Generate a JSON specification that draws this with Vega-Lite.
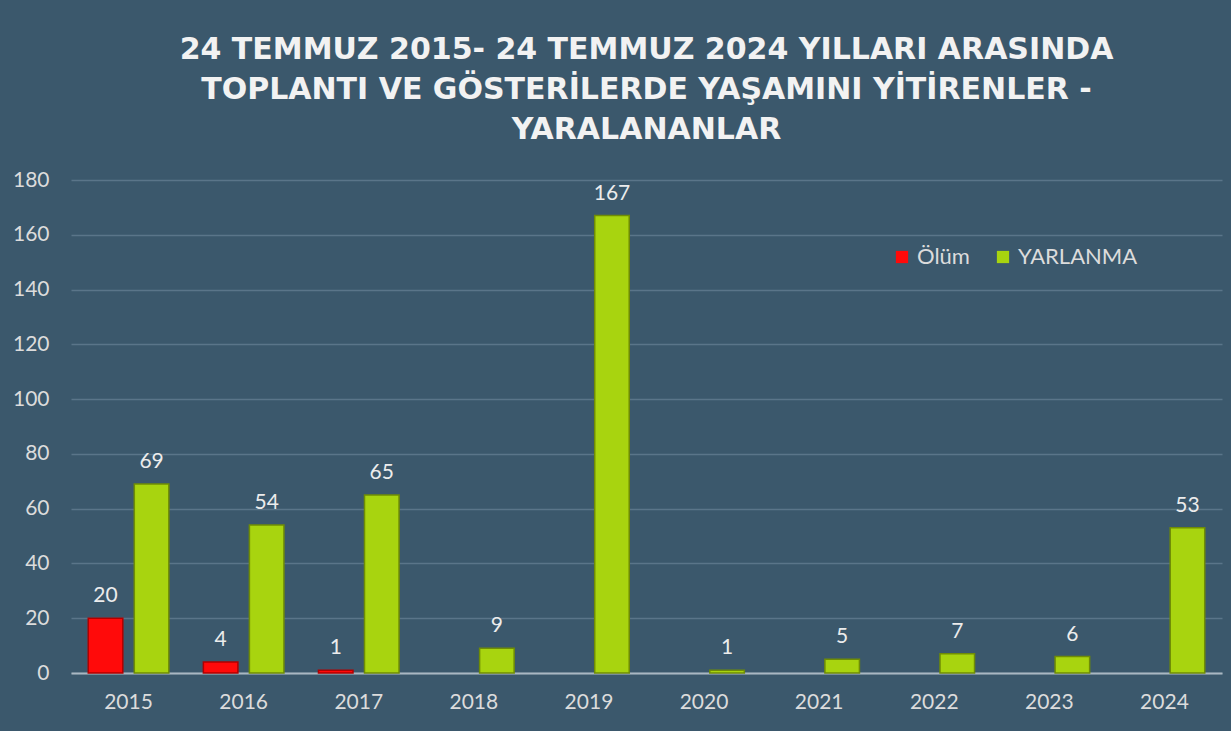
{
  "$schema": "https://vega.github.io/schema/vega-lite/v6.json",
  "autosize": "none",
  "width": 1151,
  "height": 493,
  "padding": {"left": 71, "top": 180, "right": 9, "bottom": 58},
  "background": "#3b586c",
  "config": {"view": {"stroke": null}},
  "title": {
    "text": ["24 TEMMUZ 2015- 24 TEMMUZ 2024 YILLARI ARASINDA", "TOPLANTI  VE GÖSTERİLERDE YAŞAMINI YİTİRENLER -", "YARALANANLAR"],
    "font": "DejaVu Sans",
    "fontSize": 30,
    "fontWeight": "bold",
    "color": "#f2f2f2",
    "lineHeight": 40,
    "anchor": "middle",
    "offset": 24
  },
  "data": {
    "values": [
      {"year": "2015", "series": "Ölüm", "value": 20},
      {"year": "2016", "series": "Ölüm", "value": 4},
      {"year": "2017", "series": "Ölüm", "value": 1},
      {"year": "2015", "series": "YARLANMA", "value": 69},
      {"year": "2016", "series": "YARLANMA", "value": 54},
      {"year": "2017", "series": "YARLANMA", "value": 65},
      {"year": "2018", "series": "YARLANMA", "value": 9},
      {"year": "2019", "series": "YARLANMA", "value": 167},
      {"year": "2020", "series": "YARLANMA", "value": 1},
      {"year": "2021", "series": "YARLANMA", "value": 5},
      {"year": "2022", "series": "YARLANMA", "value": 7},
      {"year": "2023", "series": "YARLANMA", "value": 6},
      {"year": "2024", "series": "YARLANMA", "value": 53}
    ]
  },
  "encoding": {
    "x": {
      "field": "year",
      "type": "nominal",
      "sort": ["2015","2016","2017","2018","2019","2020","2021","2022","2023","2024"],
      "scale": {"paddingInner": 0.3, "paddingOuter": 0.15},
      "axis": {
        "title": null,
        "labelAngle": 0,
        "labelFont": "Lato",
        "labelFontSize": 21,
        "labelColor": "#dcdcdc",
        "labelPadding": 18,
        "ticks": false,
        "domainColor": "#a9b7c2",
        "domainWidth": 2
      }
    },
    "xOffset": {
      "field": "series",
      "type": "nominal",
      "sort": ["Ölüm", "YARLANMA"],
      "scale": {"paddingInner": 0.25}
    },
    "y": {
      "field": "value",
      "type": "quantitative",
      "scale": {"domain": [0, 180]},
      "axis": {
        "title": null,
        "values": [0,20,40,60,80,100,120,140,160,180],
        "labelFont": "Lato",
        "labelFontSize": 21,
        "labelColor": "#dcdcdc",
        "labelPadding": 22,
        "ticks": false,
        "domain": false,
        "gridColor": "#5a7589",
        "gridWidth": 1.5
      }
    }
  },
  "layer": [
    {
      "mark": {"type": "bar", "strokeWidth": 1.5},
      "encoding": {
        "color": {
          "field": "series",
          "type": "nominal",
          "sort": ["Ölüm", "YARLANMA"],
          "scale": {"domain": ["Ölüm", "YARLANMA"], "range": ["#ff0a0a", "#a8d40f"]},
          "legend": {
            "title": null,
            "orient": "none",
            "legendX": 820,
            "legendY": 66,
            "direction": "horizontal",
            "symbolType": "square",
            "symbolSize": 150,
            "symbolStrokeWidth": 0,
            "labelFont": "Lato",
            "labelFontSize": 22,
            "labelColor": "#dcdcdc",
            "columnPadding": 22,
            "labelOffset": 4
          }
        },
        "stroke": {
          "field": "series",
          "type": "nominal",
          "scale": {"domain": ["Ölüm", "YARLANMA"], "range": ["#b00000", "#6f8c05"]},
          "legend": null
        }
      }
    },
    {
      "mark": {"type": "text", "dy": -22, "font": "Lato", "fontSize": 21, "color": "#ececec"},
      "encoding": {
        "text": {"field": "value", "type": "quantitative"}
      }
    }
  ]
}
